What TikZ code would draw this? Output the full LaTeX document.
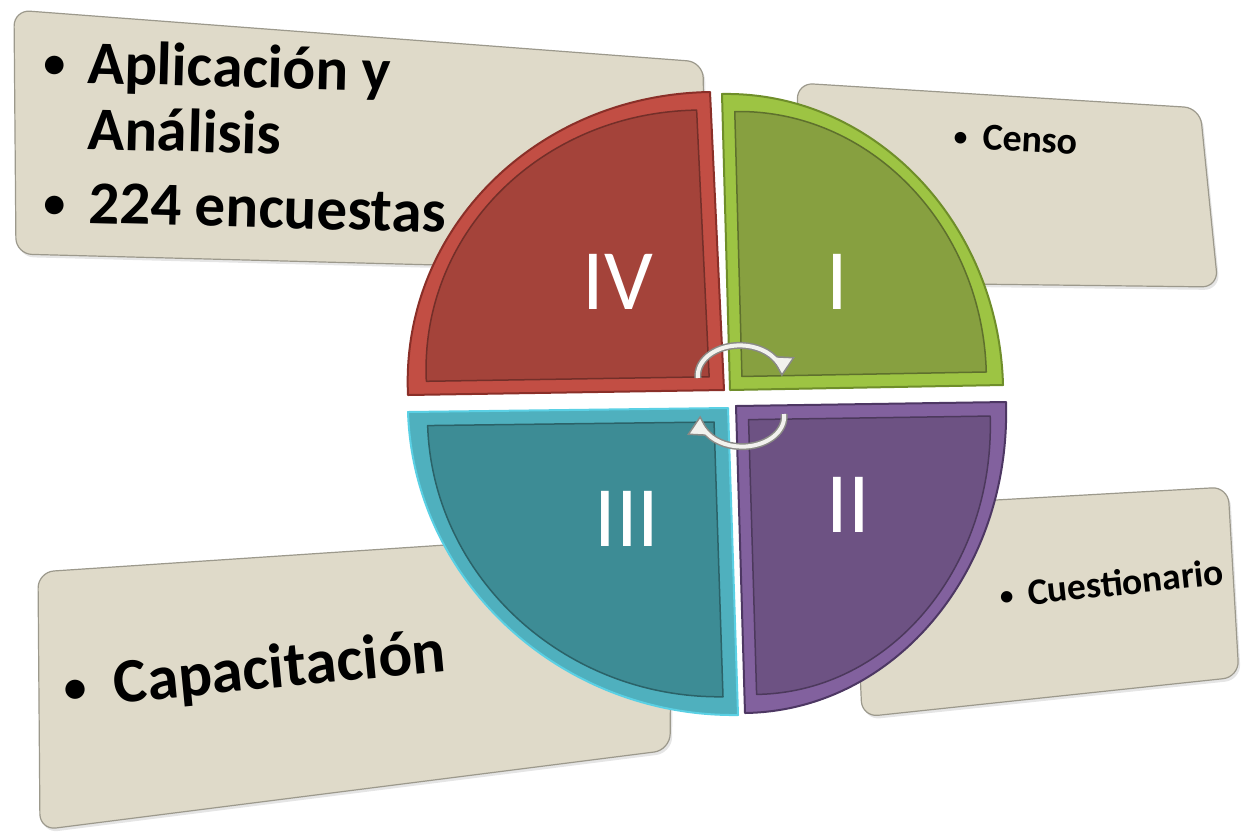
\documentclass[tikz,border=0pt]{standalone}
\usepackage{fontspec}
\setmainfont{Carlito}
\usetikzlibrary{calc,arrows.meta}
\definecolor{boxfill}{HTML}{DFDAC9}
\definecolor{boxline}{HTML}{9C998C}
\definecolor{redrim}{HTML}{C24E44}
\definecolor{redface}{HTML}{A4433A}
\definecolor{redline}{HTML}{8A2F28}
\definecolor{greenrim}{HTML}{9DC443}
\definecolor{greenface}{HTML}{87A040}
\definecolor{greenline}{HTML}{6F8E2A}
\definecolor{tealrim}{HTML}{4FB0BE}
\definecolor{tealface}{HTML}{3D8C95}
\definecolor{tealline}{HTML}{5AD0E4}
\definecolor{purplerim}{HTML}{82619E}
\definecolor{purpleface}{HTML}{6D5283}
\definecolor{purpleline}{HTML}{4D3763}
\definecolor{arrowgray}{HTML}{8A8A86}
\definecolor{arrowlight}{HTML}{F2F2EE}
\newcommand\bul{\raisebox{0.07em}{\scalebox{0.72}{•}}}
\newcommand\quadpath[3]{(#1) -- (#2) .. controls ($(#2)+0.5523*(#3)-0.5523*(#1)$) and ($(#3)+0.5523*(#2)-0.5523*(#1)$) .. (#3) -- cycle}
\newcommand\quadrant[7]{%
  \coordinate (#1c) at (#2);
  \coordinate (#1h) at (#3);
  \coordinate (#1v) at (#4);
  \coordinate (#1ci) at ($(#1c)+0.045*(#1h)+0.045*(#1v)-0.09*(#1c)$);
  \coordinate (#1hi) at ($(#1ci)+0.895*(#1h)-0.895*(#1c)$);
  \coordinate (#1vi) at ($(#1ci)+0.895*(#1v)-0.895*(#1c)$);
  \filldraw[fill=#5, draw=#7, line width=2pt, line join=round] \quadpath{#1c}{#1h}{#1v};
  \filldraw[fill=#6, draw=#6!70!black, line width=1.5pt, line join=round] \quadpath{#1ci}{#1hi}{#1vi};
}
\tikzset{
  infobox/.style={fill=boxfill, draw=boxline, line width=1.2pt, rounded corners=16pt},
  boxshadow/.style={fill=black, opacity=0.10, rounded corners=16pt},
  bodytext/.style={text=black, inner sep=0pt, anchor=base west},
  numeral/.style={font=\fontsize{86}{86}\selectfont, text=white, inner sep=0pt},
  arrowouter/.style={line width=7pt, draw=arrowgray, -{Triangle[length=20pt,width=24pt,color=arrowgray,fill=arrowlight,line width=1.5pt]}},
  arrowinner/.style={line width=4pt, draw=arrowlight, shorten >=14pt}
}
\begin{document}
\begin{tikzpicture}[x=1pt,y=-1pt]
\useasboundingbox (0,0) rectangle (1241,836);
\fill[white] (0,0) rectangle (1241,836);

% ---- boxes ----
\coordinate (tla) at (14,10);   \coordinate (tlb) at (703,62);
\coordinate (tlc) at (706,272); \coordinate (tld) at (16,254);
\coordinate (tra) at (797,83);  \coordinate (trb) at (1200,108);
\coordinate (trc) at (1218,287);\coordinate (trd) at (802,282);
\coordinate (bla) at (38,572);  \coordinate (blb) at (672,530);
\coordinate (blc) at (670,750); \coordinate (bld) at (40,830);
\coordinate (bra) at (853,508); \coordinate (brb) at (1228,487);
\coordinate (brc) at (1239,677);\coordinate (brd) at (862,717);

\foreach \p in {tl,tr,bl,br}{
  \fill[boxshadow] ($(\p a)+(2,3)$) -- ($(\p b)+(2,3)$) -- ($(\p c)+(2,3)$) -- ($(\p d)+(2,3)$) -- cycle;
  \path[infobox] (\p a) -- (\p b) -- (\p c) -- (\p d) -- cycle;
}

% ---- box texts ----
\node[bodytext, rotate=-1.5, font=\bfseries\fontsize{61}{61}\selectfont] (t1) at (43,82) {\makebox[44pt][l]{\bul}Aplicación y};
\node[bodytext, rotate=-1.5, font=\bfseries\fontsize{61}{61}\selectfont] (t2) at (43,148) {\hspace*{44pt}Análisis};
\node[bodytext, rotate=-1.5, font=\bfseries\fontsize{61}{61}\selectfont] (t3) at (43,222) {\makebox[45pt][l]{\bul}224 encuestas};
\node[bodytext, rotate=-3, font=\bfseries\fontsize{38}{38}\selectfont] (t4) at (953,148) {\makebox[29pt][l]{\bul}Censo};
\node[bodytext, rotate=5.5, font=\bfseries\fontsize{63}{63}\selectfont] (t5) at (66,708) {\makebox[50pt][l]{\bul}Capacitación};
\node[bodytext, rotate=6, font=\bfseries\fontsize{37.5}{37.5}\selectfont] (t6) at (1001,608) {\makebox[28pt][l]{\bul}Cuestionario};

% ---- quadrants ----
\quadrant{q4}{724,390}{408,395}{710,92}{redrim}{redface}{redline}
\quadrant{q1}{730,390}{1003,385}{722,94}{greenrim}{greenface}{greenline}
\quadrant{q3}{728,408}{408,412}{738,715}{tealrim}{tealface}{tealline}
\quadrant{q2}{736,406}{1006,402}{745,713}{purplerim}{purpleface}{purpleline}

\node[numeral] (n4) at (618,282) {IV};
\node[numeral] (n1) at (837,282) {I};
\node[numeral] (n3) at (627,519) {III};
\node[numeral] (n2) at (848,505) {II};

% ---- cycle arrows ----
\coordinate (ua) at (698,378);
\coordinate (la) at (784,414);
\draw[arrowouter] (ua) arc[start angle=175, end angle=362, x radius=42, y radius=30];
\draw[arrowinner] (ua) arc[start angle=175, end angle=362, x radius=42, y radius=30];
\draw[arrowouter] (la) arc[start angle=-5, end angle=182, x radius=42, y radius=30];
\draw[arrowinner] (la) arc[start angle=-5, end angle=182, x radius=42, y radius=30];
\end{tikzpicture}
\end{document}
